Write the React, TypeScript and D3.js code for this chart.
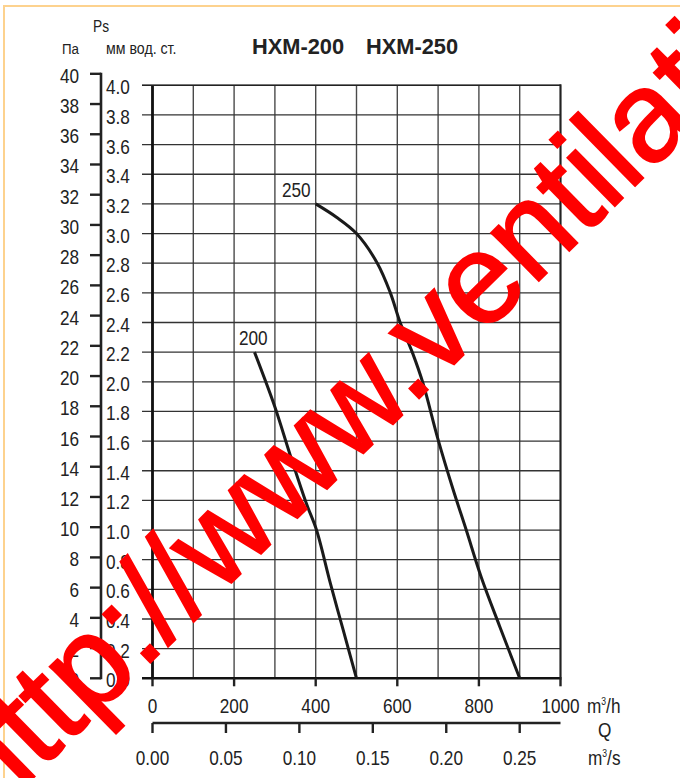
import React from 'react';
import * as d3 from 'd3';

// airflow, m3/h  vs static pressure, mm water column
const curve200Q = [250, 300, 337, 377, 402, 436, 467, 500];
const curve200P = [2.2, 1.83, 1.51, 1.18, 1.0, 0.64, 0.33, 0];
const curve250Q = [400, 451, 500, 551, 583, 607, 638, 663, 700, 736, 769, 806, 851, 900];
const curve250P = [3.2, 3.11, 3.0, 2.8, 2.6, 2.4, 2.19, 1.99, 1.61, 1.28, 1.0, 0.68, 0.35, 0];

const qTicks = [0, 200, 400, 600, 800, 1000];
const qGrid = d3.range(0, 1001, 100);
const mmTicks = d3.range(0, 21).map(i => i / 5);
const paTicks = d3.range(0, 41, 2);
const m3sTicks = [0, 0.05, 0.1, 0.15, 0.2, 0.25];

const titles = ['HXM-200', 'HXM-250'];
const watermark = 'http://www.ventilation-system.com';

const FONT = "'Liberation Sans', Arial, Helvetica, sans-serif";

const x = d3.scaleLinear().domain([0, 1000]).range([152.5, 560.5]);
const y = d3.scaleLinear().domain([0, 4]).range([678.3, 85.3]);
const PA_PER_MM = 9.81;

type NT = { x: number; y: number; size: number; anchor?: string; children: React.ReactNode; weight?: string };
const Narrow = ({ x, y, size, anchor = 'start', children, weight = 'normal' }: NT) => (
  <text
    transform={`translate(${x},${y}) scale(0.86,1)`}
    textAnchor={anchor}
    fontSize={size}
    fontFamily={FONT}
    fontWeight={weight}
    fill="#222"
  >
    {children}
  </text>
);

export default function App() {
  const line = d3
    .line<[number, number]>()
    .x(d => x(d[0]))
    .y(d => y(d[1]))
    .curve(d3.curveCatmullRom.alpha(0.5));

  const c200 = curve200Q.map((q, i) => [q, curve200P[i]] as [number, number]);
  const c250 = curve250Q.map((q, i) => [q, curve250P[i]] as [number, number]);

  const [x0, x1] = x.range();
  const [y0, y1] = y.range();
  const paY = (pa: number) => y(pa / PA_PER_MM);

  const ang = -44.5;

  return (
    <svg
      width={680}
      height={778}
      style={{ position: 'absolute', left: 0, top: 0, background: '#fff' }}
    >
      <rect x={0} y={0} width={680} height={778} fill="#fff" />
      <rect x={4} y={6} width={720} height={800} fill="none" stroke="#fdd28e" strokeWidth={2} />

      {/* header */}
      <Narrow x={93} y={32} size={16}>Ps</Narrow>
      <Narrow x={62} y={53.5} size={15.5}>Па</Narrow>
      <Narrow x={106} y={53.5} size={16.5}>мм вод. ст.</Narrow>
      <text x={252} y={54} fontSize={21.8} fontWeight="bold" fontFamily={FONT} fill="#222">{titles[0]}</text>
      <text x={366} y={54} fontSize={21.8} fontWeight="bold" fontFamily={FONT} fill="#222">{titles[1]}</text>

      {/* grid */}
      {qGrid.map(q => (
        <line key={'v' + q} x1={x(q)} x2={x(q)} y1={y1} y2={y0} stroke="#4a4a4a" strokeWidth={1.4} />
      ))}
      {mmTicks.map(p => (
        <line key={'h' + p} x1={142} x2={x1} y1={y(p)} y2={y(p)} stroke="#333" strokeWidth={1.3} />
      ))}
      <line x1={x0} x2={x0} y1={y1} y2={y0 + 1} stroke="#111" strokeWidth={2.8} />
      <line x1={142} x2={x1 + 1} y1={y0} y2={y0} stroke="#111" strokeWidth={2.6} />
      <line x1={x1} x2={x1} y1={y1 - 1} y2={y0} stroke="#222" strokeWidth={2} />
      <line x1={142} x2={x1} y1={y1} y2={y1} stroke="#222" strokeWidth={1.6} />

      {/* mm labels */}
      {mmTicks.map(p => (
        <Narrow key={'ml' + p} x={106} y={y(p) + 9} size={20}>{p.toFixed(1)}</Narrow>
      ))}

      {/* Pa axis */}
      <line x1={101} x2={101} y1={paY(40) - 1} y2={paY(0) + 1} stroke="#222" strokeWidth={2.6} />
      {paTicks.map(pa => (
        <g key={'pa' + pa}>
          <line x1={90} x2={101} y1={paY(pa)} y2={paY(pa)} stroke="#222" strokeWidth={2.4} />
          <Narrow x={79} y={paY(pa) + 9} size={20} anchor="end">{pa}</Narrow>
        </g>
      ))}

      {/* m3/h axis */}
      {qTicks.map(q => (
        <g key={'q' + q}>
          <line x1={x(q)} x2={x(q)} y1={y0} y2={y0 + 8} stroke="#222" strokeWidth={2.4} />
          <Narrow x={x(q)} y={713} size={20} anchor="middle">{q}</Narrow>
        </g>
      ))}
      <Narrow x={587} y={713} size={20}>m<tspan fontSize={10} dy={-8}>3</tspan><tspan dy={8}>/h</tspan></Narrow>
      <Narrow x={598} y={737} size={20}>Q</Narrow>

      {/* m3/s axis */}
      <line x1={x0} x2={x1} y1={723} y2={723} stroke="#222" strokeWidth={2.6} />
      {m3sTicks.map(s => (
        <g key={'s' + s}>
          <line x1={x(s * 3600)} x2={x(s * 3600)} y1={723} y2={733} stroke="#222" strokeWidth={2.4} />
          <Narrow x={x(s * 3600)} y={765} size={20} anchor="middle">{s.toFixed(2)}</Narrow>
        </g>
      ))}
      <Narrow x={588} y={765} size={20}>m<tspan fontSize={10} dy={-8}>3</tspan><tspan dy={8}>/s</tspan></Narrow>

      {/* curves */}
      <path d={line(c200) || ''} fill="none" stroke="#1a1a1a" strokeWidth={3} />
      <path d={line(c250) || ''} fill="none" stroke="#1a1a1a" strokeWidth={3} />
      <Narrow x={239} y={345} size={20}>200</Narrow>
      <Narrow x={282} y={197} size={20}>250</Narrow>

      {/* watermark */}
      <text
        transform={`translate(-10.3,820.4) rotate(${ang})`}
        fontSize={128}
        fontFamily={FONT}
        fill="#ff0000"
        stroke="#ff0000"
        strokeWidth={2}
        strokeLinejoin="miter"
      >
        {watermark}
      </text>
    </svg>
  );
}
